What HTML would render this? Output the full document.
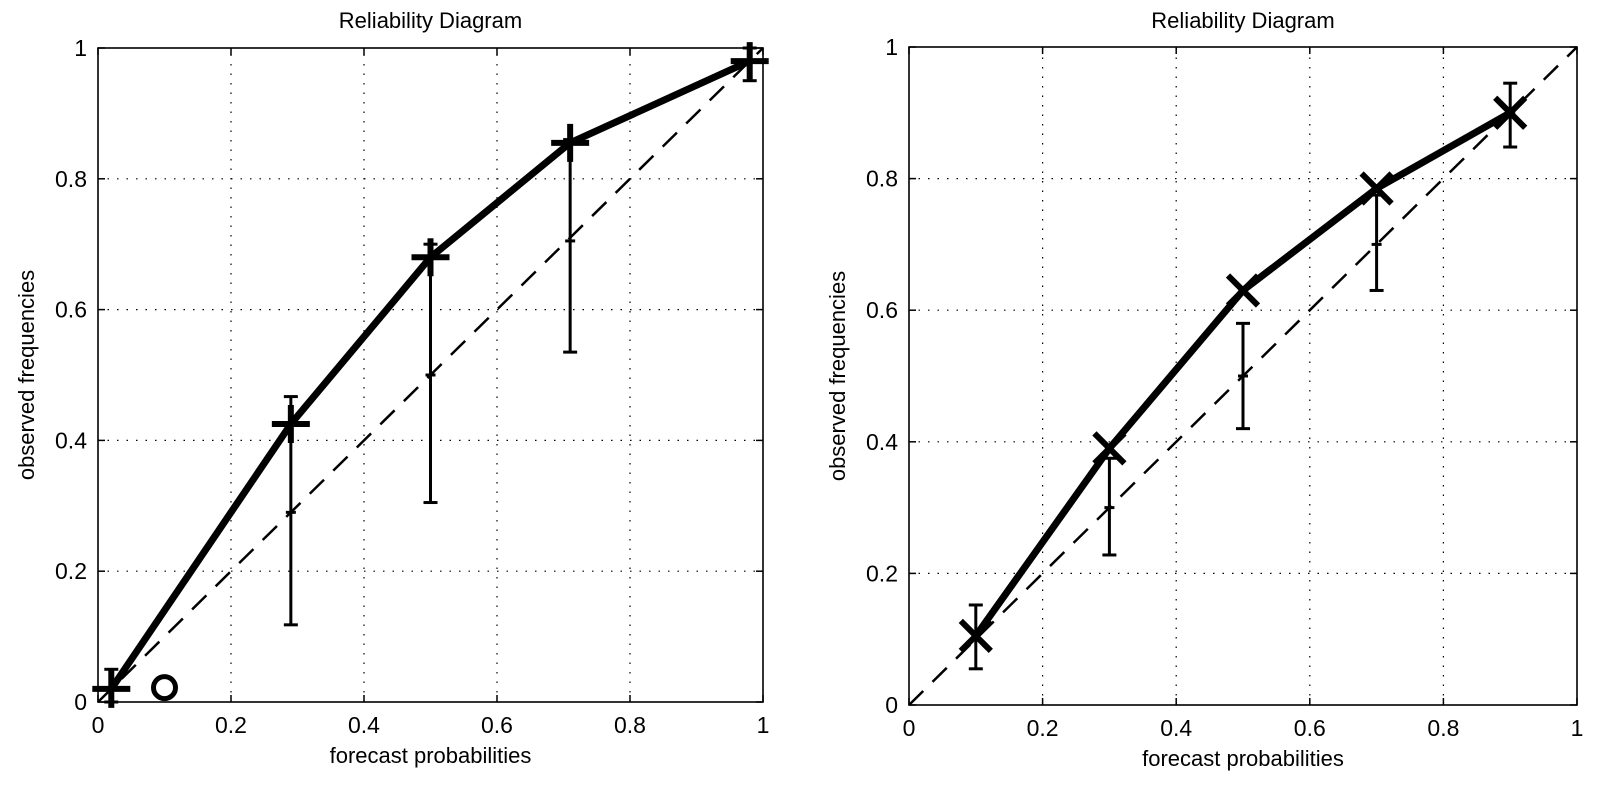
<!DOCTYPE html>
<html><head><meta charset="utf-8"><style>
body{margin:0;background:#fff}
svg{display:block;font-family:"Liberation Sans",sans-serif}
</style></head><body>
<svg id="c" width="1612" height="791"></svg>
<script>
const ticks=[0,0.2,0.4,0.6,0.8,1];
const tickLabels=["0","0.2","0.4","0.6","0.8","1"];
const leftX=[0.02,0.29,0.5,0.71,0.98];
const leftObs=[0.02,0.425,0.68,0.855,0.98];
const leftLo=[0.0,0.118,0.305,0.535,0.95];
const leftHi=[0.05,0.467,0.70,0.86,1.0];
const leftMid=[0.02,0.29,0.5,0.705,0.98];
const leftCircle=[0.1,0.022];
const rightX=[0.1,0.3,0.5,0.7,0.9];
const rightObs=[0.105,0.39,0.63,0.785,0.9];
const rightLo=[0.055,0.228,0.42,0.63,0.848];
const rightHi=[0.152,0.375,0.58,0.775,0.945];
const rightMid=[0.1,0.3,0.5,0.7,0.9];

const NS="http://www.w3.org/2000/svg";
const svg=document.getElementById('c');
function el(t,a,p){const e=document.createElementNS(NS,t);for(const k in a)e.setAttribute(k,a[k]);(p||svg).appendChild(e);return e;}

function panel(name,x0,x1,y0,y1,xs,obs,lo,hi,mid,marker,circle){
  const g=el('g',{});
  
  
  const sx=v=>x0+v*(x1-x0), sy=v=>y0-v*(y0-y1);
  ticks.forEach((t,i)=>{
    if(i>0&&i<5){
      const gv=el('line',{x1:sx(t),x2:sx(t),y1:y0,y2:y1,stroke:'#000','stroke-width':1.2,'stroke-dasharray':'1.5 8'},g);
      
      const gh=el('line',{x1:x0,x2:x1,y1:sy(t),y2:sy(t),stroke:'#000','stroke-width':1.2,'stroke-dasharray':'1.5 8'},g);
      
    }
    el('line',{x1:sx(t),x2:sx(t),y1:y0,y2:y0-7,stroke:'#000','stroke-width':1.5},g);
    el('line',{x1:sx(t),x2:sx(t),y1:y1,y2:y1+7,stroke:'#000','stroke-width':1.5},g);
    el('line',{x1:x0,x2:x0+7,y1:sy(t),y2:sy(t),stroke:'#000','stroke-width':1.5},g);
    el('line',{x1:x1,x2:x1-7,y1:sy(t),y2:sy(t),stroke:'#000','stroke-width':1.5},g);
    const xl=el('text',{x:sx(t),y:y0+31,'text-anchor':'middle','font-size':23},g);xl.textContent=tickLabels[i];
    
    const yl=el('text',{x:x0-11,y:sy(t)+8,'text-anchor':'end','font-size':23},g);yl.textContent=tickLabels[i];
    
  });
  const box=el('rect',{x:x0,y:y1,width:x1-x0,height:y0-y1,fill:'none',stroke:'#000','stroke-width':1.6},g);
  
  const diag=el('line',{x1:sx(0),y1:sy(0),x2:sx(1),y2:sy(1),stroke:'#000','stroke-width':2.5,'stroke-dasharray':'20 13'},g);
  
  xs.forEach((x,i)=>{
    const e=el('g',{stroke:'#000','stroke-width':3},g);
    
    el('line',{x1:sx(x),x2:sx(x),y1:sy(lo[i]),y2:sy(hi[i])},e);
    el('line',{x1:sx(x)-7,x2:sx(x)+7,y1:sy(lo[i]),y2:sy(lo[i])},e);
    el('line',{x1:sx(x)-7,x2:sx(x)+7,y1:sy(hi[i]),y2:sy(hi[i])},e);
    el('line',{x1:sx(x)-5,x2:sx(x)+5,y1:sy(mid[i]),y2:sy(mid[i])},e);
  });
  const pl=el('polyline',{points:xs.map((x,i)=>sx(x)+','+sy(obs[i])).join(' '),fill:'none',stroke:'#000','stroke-width':7,'stroke-linejoin':'round'},g);
  
  xs.forEach((x,i)=>{
    const cx=sx(x),cy=sy(obs[i]),m=el('g',{stroke:'#000','stroke-width':6},g);
    
    if(marker==='+'){el('line',{x1:cx-19,x2:cx+19,y1:cy,y2:cy},m);el('line',{x1:cx,x2:cx,y1:cy-19,y2:cy+19},m);}
    else{el('line',{x1:cx-15,x2:cx+15,y1:cy-15,y2:cy+15},m);el('line',{x1:cx-15,x2:cx+15,y1:cy+15,y2:cy-15},m);}
  });
  if(circle){
    const c=el('circle',{cx:sx(circle[0]),cy:sy(circle[1]),r:11,fill:'none',stroke:'#000','stroke-width':5},g);
    
  }
  const t=el('text',{x:(x0+x1)/2,y:28,'text-anchor':'middle','font-size':22},g);t.textContent='Reliability Diagram';
  
  const xt=el('text',{x:(x0+x1)/2,y:y0+61,'text-anchor':'middle','font-size':22},g);xt.textContent='forecast probabilities';
  
  const yt=el('text',{x:0,y:0,'text-anchor':'middle','font-size':22,transform:`translate(${x0-64},${(y0+y1)/2}) rotate(-90)`},g);yt.textContent='observed frequencies';
  
}
panel('left-reliability-panel',98,763,702,48,leftX,leftObs,leftLo,leftHi,leftMid,'+',leftCircle);
panel('right-reliability-panel',909,1577,705,47,rightX,rightObs,rightLo,rightHi,rightMid,'x',null);
</script>
</body></html>
